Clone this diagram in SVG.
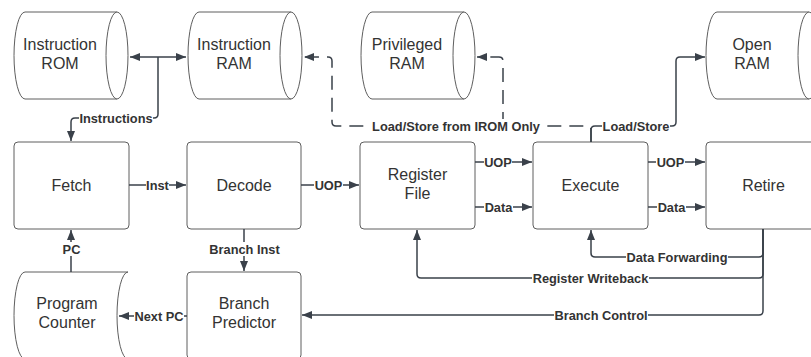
<svg xmlns="http://www.w3.org/2000/svg" width="811" height="357" viewBox="0 0 811 357">
  <style>
    .shape { fill: #ffffff; stroke: #5e5e5e; stroke-width: 1; }
    .name { font-family: "Liberation Sans", Arial, sans-serif; font-size: 16px; fill: #333333; text-anchor: middle; }
    .wire { fill: none; stroke: #3a414a; stroke-width: 1.5; }
    .dash { stroke-dasharray: 14 8; }
    .lbg { fill: #ffffff; }
    .lbl { font-family: "Liberation Sans", Arial, sans-serif; font-size: 12.8px; font-weight: bold; fill: #333333; text-anchor: middle; }
  </style>
  <defs>
    <marker id="arrow" markerUnits="userSpaceOnUse" markerWidth="11" markerHeight="9" refX="10" refY="4" orient="auto-start-reverse">
      <path d="M0,0 L10,4 L0,8 Z" fill="#3a414a"/>
    </marker>
  </defs>
  <rect width="811" height="357" fill="#ffffff"/>

  <!-- storage cylinders -->
  <g id="instruction-rom">
    <path class="shape" d="M25,12 H117 A11,43.5 0 0 1 117,99 H25 A11,43.5 0 0 1 25,12 Z"/>
    <path class="shape" d="M117,12 A11,43.5 0 0 0 117,99"/>
    <text class="name" x="60" y="49.5">Instruction</text>
    <text class="name" x="60" y="68.5">ROM</text>
  </g>
  <g id="instruction-ram">
    <path class="shape" d="M199,12 H291 A11,43.5 0 0 1 291,99 H199 A11,43.5 0 0 1 199,12 Z"/>
    <path class="shape" d="M291,12 A11,43.5 0 0 0 291,99"/>
    <text class="name" x="234" y="49.5">Instruction</text>
    <text class="name" x="234" y="68.5">RAM</text>
  </g>
  <g id="privileged-ram">
    <path class="shape" d="M372,12 H464 A11,43.5 0 0 1 464,99 H372 A11,43.5 0 0 1 372,12 Z"/>
    <path class="shape" d="M464,12 A11,43.5 0 0 0 464,99"/>
    <text class="name" x="407" y="49.5">Privileged</text>
    <text class="name" x="407" y="68.5">RAM</text>
  </g>
  <g id="open-ram">
    <path class="shape" d="M717,12 H809 A11,43.5 0 0 1 809,99 H717 A11,43.5 0 0 1 717,12 Z"/>
    <path class="shape" d="M809,12 A11,43.5 0 0 0 809,99"/>
    <text class="name" x="752" y="49.5">Open</text>
    <text class="name" x="752" y="68.5">RAM</text>
  </g>

  <!-- pipeline stages -->
  <g id="fetch">
    <rect class="shape" x="14" y="142" width="115" height="87" rx="4"/>
    <text class="name" x="71.5" y="191">Fetch</text>
  </g>
  <g id="decode">
    <rect class="shape" x="187" y="142" width="114" height="87" rx="4"/>
    <text class="name" x="244" y="191">Decode</text>
  </g>
  <g id="register-file">
    <rect class="shape" x="360" y="142" width="115" height="87" rx="4"/>
    <text class="name" x="417.5" y="180">Register</text>
    <text class="name" x="417.5" y="199">File</text>
  </g>
  <g id="execute">
    <rect class="shape" x="533" y="142" width="115" height="87" rx="4"/>
    <text class="name" x="590.5" y="191">Execute</text>
  </g>
  <g id="retire">
    <rect class="shape" x="706" y="142" width="115" height="87" rx="4"/>
    <text class="name" x="763.5" y="191">Retire</text>
  </g>

  <!-- bottom row -->
  <g id="program-counter">
    <path class="shape" d="M25,272 H128 A11,43.5 0 0 0 128,359 H25 A11,43.5 0 0 1 25,272 Z"/>
    <text class="name" x="67" y="309">Program</text>
    <text class="name" x="67" y="328">Counter</text>
  </g>
  <g id="branch-predictor">
    <rect class="shape" x="187" y="272" width="114" height="87" rx="4"/>
    <text class="name" x="244" y="309">Branch</text>
    <text class="name" x="244" y="328">Predictor</text>
  </g>

  <!-- connectors -->
  <g id="connectors">
    <path class="wire" d="M130,57 H186" marker-start="url(#arrow)" marker-end="url(#arrow)"/>
    <path class="wire" d="M158,57 V114 Q158,118 154,118 H75 Q71,118 71,122 V141" marker-end="url(#arrow)"/>

    <path class="wire dash" d="M591,142 V130 Q591,126 587,126 H336 Q332,126 332,122 V61 Q332,57 328,57 H304" marker-end="url(#arrow)"/>
    <path class="wire dash" d="M503,126 V61 Q503,57 499,57 H477" marker-end="url(#arrow)"/>
    <path class="wire" d="M591,142 V130 Q591,126 595,126 H672 Q676,126 676,122 V61 Q676,57 680,57 H705" marker-end="url(#arrow)"/>

    <path class="wire" d="M129,185 H186" marker-end="url(#arrow)"/>
    <path class="wire" d="M301,185 H359" marker-end="url(#arrow)"/>
    <path class="wire" d="M475,162 H532" marker-end="url(#arrow)"/>
    <path class="wire" d="M475,207 H532" marker-end="url(#arrow)"/>
    <path class="wire" d="M648,162 H705" marker-end="url(#arrow)"/>
    <path class="wire" d="M648,207 H705" marker-end="url(#arrow)"/>

    <path class="wire" d="M763,229 V253 Q763,257 759,257 H595 Q591,257 591,253 V230" marker-end="url(#arrow)"/>
    <path class="wire" d="M763,229 V274 Q763,278 759,278 H421 Q417,278 417,274 V230" marker-end="url(#arrow)"/>
    <path class="wire" d="M763,229 V311 Q763,315 759,315 H302" marker-end="url(#arrow)"/>

    <path class="wire" d="M244,229 V271" marker-end="url(#arrow)"/>
    <path class="wire" d="M71,272 V230" marker-end="url(#arrow)"/>
    <path class="wire" d="M187,316 H119" marker-end="url(#arrow)"/>

    <!-- labels -->
    <rect class="lbg" x="79" y="111" width="74" height="14"/>
    <text class="lbl" x="116" y="122.6">Instructions</text>
    <rect class="lbg" x="146" y="178" width="23" height="14"/>
    <text class="lbl" x="157.5" y="189.6">Inst</text>
    <rect class="lbg" x="314" y="178" width="29" height="14"/>
    <text class="lbl" x="328.5" y="189.6">UOP</text>
    <rect class="lbg" x="484" y="155" width="28" height="14"/>
    <text class="lbl" x="498" y="166.6">UOP</text>
    <rect class="lbg" x="484" y="200" width="29" height="14"/>
    <text class="lbl" x="498.5" y="211.6">Data</text>
    <rect class="lbg" x="656" y="155" width="29" height="14"/>
    <text class="lbl" x="670.5" y="166.6">UOP</text>
    <rect class="lbg" x="657" y="200" width="29" height="14"/>
    <text class="lbl" x="671.5" y="211.6">Data</text>
    <rect class="lbg" x="371" y="119" width="170" height="14"/>
    <text class="lbl" x="456" y="130.6">Load/Store from IROM Only</text>
    <rect class="lbg" x="602" y="119" width="68" height="14"/>
    <text class="lbl" x="636" y="130.6">Load/Store</text>
    <rect class="lbg" x="626" y="250" width="102" height="14"/>
    <text class="lbl" x="677" y="261.6">Data Forwarding</text>
    <rect class="lbg" x="532" y="271" width="117" height="14"/>
    <text class="lbl" x="590.5" y="282.6">Register Writeback</text>
    <rect class="lbg" x="554" y="308" width="94" height="14"/>
    <text class="lbl" x="601" y="319.6">Branch Control</text>
    <rect class="lbg" x="209" y="242" width="71" height="14"/>
    <text class="lbl" x="244.5" y="253.6">Branch Inst</text>
    <rect class="lbg" x="62" y="242" width="19" height="14"/>
    <text class="lbl" x="71.5" y="253.6">PC</text>
    <rect class="lbg" x="134" y="309" width="50" height="14"/>
    <text class="lbl" x="159" y="320.6">Next PC</text>
  </g>
</svg>
